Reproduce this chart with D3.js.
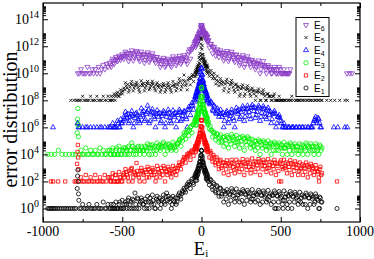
<!DOCTYPE html>
<html>
<head>
<meta charset="utf-8">
<title>error distribution</title>
<script src="https://d3js.org/d3.v7.min.js"></script>
<style>
  body { margin: 0; background: #fff; }
  svg { display: block; }
</style>
</head>
<body>
<script>
// histogram bins: counts every binStep from binStart (0 = empty bin)
var binStart = -780, binStep = 10;
// in-between bins, same step, shifted by 5
var halfStart = -575;
// finer bins around the central peak
var coreStart = -39, coreStep = 2;

var e1Bins = [700,1,1,2,1,1,1,2,1,1, 1,1,2,1,1,1,3,1,1,2, 1,2,1,1,3,1,2,1,4,1, 3,1,6,2,1,4,14,1,5,2,
  6,2,1,3,8,1,3,10,2,1, 8,3,1,4,10,2,14,8,3,1, 8,3,2,6,14,5,20,32,16,63, 90,30,150,60,300,120,800,3000,20000,2500,
  500,150,200,55,120,25,60,15,40,8, 32,12,3,12,25,2,10,30,9,3, 28,10,3,12,25,2,10,22,8,3, 25,9,3,10,22,2,9,20,7,3,
  22,8,2,9,20,1,8,18,6,2, 20,7,2,8,18,1,7,16,6,2, 16,6,2,7,14,1,6,12,5,2, 12,5,1,6,3];
var e2Bins = [500,1,2,1,1,3,1,1,2,1, 1,3,1,1,2,1,1,3,1,2, 2,1,4,1,3,1,5,2,1,4, 8,3,1,4,10,2,4,23,3,1,
  10,4,1,5,12,2,5,10,3,1, 14,5,2,6,14,1,5,12,4,2, 14,5,3,10,25,8,30,63,25,100, 125,40,200,80,400,250,1500,4000,35000,3000,
  600,200,250,60,125,30,63,16,40,8, 40,14,4,16,36,3,14,40,12,4, 40,15,5,16,45,3,14,40,12,4, 50,18,5,16,45,3,16,40,14,5,
  45,16,4,14,40,3,14,1,36,12, 40,14,4,12,36,3,12,30,10,3, 25,10,3,10,25,2,9,20,8,3, 16,6,2,12,4];
var e3Bins = [2500,1,2,1,1,3,1,1,2,1, 1,2,1,1,3,1,2,1,1,2, 2,1,3,1,2,1,4,1,2,3, 3,1,4,2,7,1,3,2,4,1,
  4,2,1,3,6,1,3,5,2,1, 7,3,2,4,8,1,3,6,3,2, 8,3,2,6,12,4,10,40,14,63, 25,100,40,160,400,150,1000,6000,90000,5000,
  1000,300,160,80,60,20,40,12,30,8, 28,10,4,12,25,3,10,30,12,4, 25,9,3,10,22,2,9,20,8,3, 13,5,2,6,12,1,5,10,4,2,
  10,4,1,5,8,2,4,7,3,1, 8,3,1,4,7,1,3,6,2,1, 6,3,1,3,7,1,3,6,2,1, 6,2,1,4,3];
var e4Bins = [2,1,0,1,0,1,1,0,1,0, 1,0,1,0,1,1,0,1,0,1, 1,0,2,1,1,3,1,4,2,6, 14,5,2,6,16,1,5,12,4,2,
  25,8,3,10,40,2,9,22,6,1, 18,6,2,7,16,1,6,20,5,2, 18,6,1,8,20,3,7,16,6,1, 32,8,63,20,160,400,1000,4000,25000,3000,
  600,250,100,60,80,20,40,12,25,6, 20,6,1,8,16,2,7,20,5,1, 28,10,4,14,36,3,12,40,14,4, 45,16,5,14,40,3,12,36,10,4,
  28,8,2,10,16,1,6,8,3,1, 2,1,0,1,0,1,1,0,1,0, 1,0,1,0,0,1,0,1,1,3, 6,2,4,1,0];
var e5Bins = [1,1,1,2,1,1,1,1,2,1, 1,1,2,1,1,1,2,1,1,2, 1,2,1,3,2,4,2,6,3,8, 20,8,4,10,25,5,12,22,9,4,
  28,12,5,12,25,6,12,26,10,5, 20,9,4,10,18,4,9,20,8,4, 25,10,5,14,40,6,15,74,12,6, 40,14,63,25,100,200,400,3000,40000,2500,
  600,300,250,60,160,40,100,16,63,12, 40,15,5,16,36,4,14,30,10,4, 16,6,2,7,14,2,6,12,5,2, 8,3,1,4,7,1,3,6,2,1,
  3,2,1,2,3,1,1,2,1,1, 1,1,0,1,1,2,1,0,1,1, 1,0,1,1,0,1,0,1,1,0, 1,0,1,0,1];
var e6Bins = [1,1,2,1,1,1,3,1,1,2, 1,2,1,3,1,2,4,2,5,3, 6,3,12,5,16,8,20,10,25,12, 40,18,8,20,50,9,22,45,16,8,
  40,15,6,16,36,7,14,30,12,6, 16,7,3,8,14,3,6,12,6,3, 18,8,4,9,20,5,10,22,10,5, 40,12,63,100,200,320,600,1200,3700,1500,
  700,400,250,80,150,30,90,20,60,16, 50,20,9,22,45,8,18,40,14,7, 25,10,4,10,22,3,9,18,7,3, 10,4,2,5,9,1,4,8,3,1,
  4,2,1,2,3,1,2,3,1,1, 2,1,1,1,2,0,0,0,0,0, 0,0,0,0,0,0,0,0,0,0, 0,0,0,0,0];

var e1Half = [1,1,2,1,1,1,3,1,1,2, 2,4,1,3,5,1,2,6,1,3, 4,2,5,1,3,6,2,4,1,5, 4,6,2,5,3,8,4,5,6,2,
  4,6,3,10,8,12,16,24,40,50, 60,100,80,200,250,500,1500,8000,6000,1200, 600,300,100,150,40,80,20,50,14,30,
  8,20,18,5,16,12,4,20,15,6, 6,16,14,4,18,12,4,15,12,5, 5,14,12,4,16,10,3,14,10,5, 4,12,10,3,14,9,3,12,8,4,
  4,12,9,3,12,8,3,11,8,4, 3,10,8,2,10,6,2,9,7,3, 8,4,7,3];
var e2Half = [1,2,1,3,1,1,2,1,3,2, 5,2,6,8,1,5,3,6,2,6, 6,3,7,2,8,5,3,7,5,2, 8,4,10,3,9,6,3,8,6,4,
  8,10,6,14,16,20,40,50,60,80, 100,160,150,250,300,700,2000,12000,10000,2000, 800,400,150,180,50,90,25,60,20,30,
  10,25,24,8,22,18,6,25,20,8, 10,28,22,8,25,20,7,28,22,8, 12,30,25,9,30,22,8,28,24,10, 10,28,22,8,25,20,6,25,20,8,
  10,25,20,7,22,18,6,20,16,6, 8,18,14,5,16,12,4,14,10,5, 9,5,8,3];
var e3Half = [1,2,1,1,3,1,2,1,2,1, 2,3,1,2,4,2,1,3,2,2, 3,2,4,2,3,5,1,3,4,2, 4,5,3,6,4,5,2,5,4,3,
  5,4,6,8,12,16,20,28,40,50, 60,120,160,250,300,500,2000,15000,20000,2500, 1200,500,250,120,60,45,25,35,16,20,
  8,18,20,6,18,15,6,20,18,8, 7,16,18,5,15,14,5,16,14,6, 4,10,9,3,9,8,3,8,7,4, 3,7,6,2,6,5,2,5,5,3,
  3,5,5,2,5,4,2,4,4,2, 2,5,4,2,5,4,2,4,4,2, 4,3,5,2];
var e4Half = [1,0,1,1,0,2,1,2,3,4, 8,10,3,9,7,2,10,8,3,6, 12,16,4,14,20,3,14,12,4,10, 10,12,3,10,12,2,10,12,3,8,
  10,12,3,12,14,4,12,14,4,20, 20,40,40,100,200,600,2000,12000,8000,1500, 500,200,120,50,60,16,30,10,15,10,
  10,12,3,12,10,4,12,12,3,14, 16,20,6,22,25,6,22,25,7,30, 28,30,8,25,30,6,22,25,6,20, 16,14,4,12,10,2,6,5,2,1,
  1,0,1,1,0,1,0,1,0,1, 0,1,0,1,0,1,0,1,2,4, 3,5,2,1];
var e5Half = [1,1,2,1,3,2,3,4,5,6, 12,15,6,16,14,8,16,14,6,12, 16,18,8,18,16,8,18,16,7,14, 12,14,6,14,12,6,14,12,6,12,
  14,16,8,20,25,10,30,25,16,30, 50,40,80,60,150,300,1500,15000,12000,1200, 800,400,150,100,80,60,40,30,25,20,
  25,22,8,25,20,7,20,18,6,14, 10,10,3,10,8,3,8,7,3,6, 5,5,2,5,4,1,4,3,1,3, 2,2,1,2,1,1,1,1,1,0,
  1,0,1,0,1,0,0,1,0,1, 0,1,0,0,1,0,1,0,0,1, 0,1,0,1];
var e6Half = [4,8,6,10,12,10,14,16,18,20, 28,30,14,32,30,15,35,30,12,25, 25,25,10,25,22,10,20,18,9,16, 10,10,5,10,9,4,9,8,4,10,
  12,12,6,14,12,7,14,16,8,25, 60,50,80,150,250,500,900,2500,2500,1000, 900,500,300,150,100,70,50,40,35,30,
  35,32,14,32,30,12,28,25,10,22, 16,15,6,15,13,5,12,11,5,9, 7,6,3,6,5,2,4,4,2,3, 3,2,1,2,2,1,1,2,1,1,
  1,1,1,1,0,0,0,0,0,0, 0,0,0,0,0,0,0,0,0,0, 0,0,0,0];

var e1Core = [250,120,400,180,500,250,600,300,900,400, 1200,600,1800,900,2500,1500,5000,3000,9000,20000,
  18000,8000,4000,2500,3000,1500,1800,900,1200,600, 900,400,700,300,500,200,400,150,300,120];
var e2Core = [300,150,450,200,600,300,800,400,1100,600, 1500,800,2200,1200,3500,2000,6000,4000,12000,35000,
  30000,10000,5000,3000,4000,2000,2500,1200,1600,800, 1200,600,900,400,700,300,500,200,400,150];
var e3Core = [350,150,500,250,700,350,1000,500,1400,700, 2000,1000,3000,1500,5000,2500,9000,5000,20000,90000,
  70000,15000,8000,4000,5000,2500,3000,1500,2000,1000, 1500,700,1100,500,800,400,600,250,450,200];
var e4Core = [200,80,300,120,400,180,600,250,800,350, 1100,500,1600,700,2500,1200,4000,2000,9000,25000,
  20000,7000,3500,2000,2500,1200,1500,700,1000,500, 700,300,500,200,400,150,300,100,200,80];
var e5Core = [120,60,150,80,200,100,250,120,320,150, 400,200,600,300,1000,500,2000,1200,8000,40000,
  30000,6000,2500,1200,1500,800,1000,500,700,400, 600,300,500,200,400,150,350,120,300,100];
var e6Core = [200,90,250,120,320,150,400,200,500,250, 600,300,800,400,1000,600,1500,900,2500,3700,
  3200,2000,1800,1200,1500,1000,1200,800,1000,600, 900,500,800,400,700,300,600,250,500,200];

// isolated points outside the grid: [E, count]
var e1Extra = [[-970,1],[-962,1],[-953,1],[-945,1],[-936,1],[-928,1],[-918,1],[-909,1],[-897,1],[-885,1],
  [-872,1],[-861,1],[-850,1],[-838,1],[-826,1],[-815,1],[-803,1],[-792,1],
  [-784,30],[-782,250],[-778,100],[-776,12],[-774,4],[462,1],[485,1],[515,1],[545,1],[745,1],[855,1]];
var e2Extra = [[-950,1],[-936,1],[-905,1],[-860,1],[-800,1],[-790,1],[-785,20],[-782,150],[-778,60],[-776,8],
  [503,1],[742,1],[855,1]];
var e3Extra = [[-970,1],[-948,1],[-925,1],[-903,2],[-880,1],[-858,1],[-834,1],[-812,1],[-795,1],
  [-784,40],[-782,400],[-779,150],[-777,20]];
var e4Extra = [[-937,1],[-782,2],[-776,1],[835,1],[860,1],[905,1],[920,1]];
var e5Extra = [[-825,1],[-805,1],[-790,1],[790,1],[815,1],[840,1],[872,1],[905,1],[920,1]];
var e6Extra = [[918,1],[935,1],[950,1]];

var names = ["E1", "E2", "E3", "E4", "E5", "E6"];
var shifts = [1, 1e2, 1e4, 1e6, 1e8, 1e10];   // each curve shifted by 10^2
var xTicks = [-1000, -500, 0, 500, 1000];
var xMinor = [-750, -250, 250, 750];
var yPows = [0, 2, 4, 6, 8, 10, 12, 14];

var w = 374, h = 259;
var pL = 43, pR = 360, pT = 3, pB = 222;   // plot frame

var svg = d3.select("body").append("svg")
    .attr("width", w)
    .attr("height", h);
svg.append("rect").attr("width", w).attr("height", h).attr("fill", "white");

var x = d3.scaleLinear().domain([-1000, 1000]).range([pL, pR]);
var y = d3.scaleLog().domain([0.1, Math.pow(10, 15.2)]).range([pB, pT]);

var tri = d3.symbol().type(d3.symbolTriangle).size(11)();
var styles = [
    {color: "black",   path: d3.symbol().type(d3.symbolCircle).size(13)(), rot: 0},
    {color: "#ff0000", path: d3.symbol().type(d3.symbolSquare).size(11)(), rot: 0},
    {color: "#00f000", path: d3.symbol().type(d3.symbolCircle).size(15)(), rot: 0},
    {color: "#0000ff", path: tri, rot: 0},
    {color: "black",   path: "M-1.5,-1.5L1.5,1.5M-1.5,1.5L1.5,-1.5", rot: 0},
    {color: "#8c3cc8", path: tri, rot: 180}
];
var bins = [e1Bins, e2Bins, e3Bins, e4Bins, e5Bins, e6Bins];
var halves = [e1Half, e2Half, e3Half, e4Half, e5Half, e6Half];
var cores = [e1Core, e2Core, e3Core, e4Core, e5Core, e6Core];
var extras = [e1Extra, e2Extra, e3Extra, e4Extra, e5Extra, e6Extra];

function points(k) {
    var pts = [];
    bins[k].forEach(function(c, i) { if (c > 0) pts.push([binStart + i * binStep, c]); });
    halves[k].forEach(function(c, i) { if (c > 0) pts.push([halfStart + i * binStep, c]); });
    cores[k].forEach(function(c, i) { if (c > 0) pts.push([coreStart + i * coreStep, c]); });
    extras[k].forEach(function(p) { pts.push(p); });
    return pts;
}

// E6 at the bottom of the stack, E1 drawn last
for (var k = 5; k >= 0; k--) {
    var st = styles[k];
    svg.append("g")
        .selectAll("path")
        .data(points(k))
        .enter()
        .append("path")
        .attr("d", st.path)
        .attr("transform", function(d) {
            return "translate(" + x(d[0]) + "," + y(d[1] * shifts[k]) + ")" + (st.rot ? " rotate(" + st.rot + ")" : "");
        })
        .attr("fill", "none")
        .attr("stroke", st.color)
        .attr("stroke-width", 0.8);
}

// frame
svg.append("rect")
    .attr("x", pL).attr("y", pT)
    .attr("width", pR - pL).attr("height", pB - pT)
    .attr("fill", "none").attr("stroke", "black").attr("stroke-width", 1.2);

// ticks (inward, on all four sides)
var yMinor = [];
yPows.forEach(function(p) { for (var m = 2; m <= 9; m++) yMinor.push(m * Math.pow(10, p)); });

function ticks(axis, tr, vals, size) {
    var g = svg.append("g").attr("transform", tr)
        .call(axis.tickValues(vals).tickSize(-size).tickFormat(""));
    g.select(".domain").remove();
    g.selectAll("line").attr("stroke", "black").attr("stroke-width", 1);
    return g;
}
ticks(d3.axisBottom(x), "translate(0," + pB + ")", xTicks, 5);
ticks(d3.axisBottom(x), "translate(0," + pB + ")", xMinor, 3);
ticks(d3.axisTop(x), "translate(0," + pT + ")", xTicks, 5);
ticks(d3.axisTop(x), "translate(0," + pT + ")", xMinor, 3);
var yMajor = yPows.map(function(p) { return Math.pow(10, p); });
ticks(d3.axisLeft(y), "translate(" + pL + ",0)", yMajor, 5);
ticks(d3.axisLeft(y), "translate(" + pL + ",0)", yMinor, 3);
ticks(d3.axisRight(y), "translate(" + pR + ",0)", yMajor, 5);
ticks(d3.axisRight(y), "translate(" + pR + ",0)", yMinor, 3);

var serif = "'Liberation Serif', 'Times New Roman', serif";

// x tick labels
svg.selectAll("text.xl")
    .data(xTicks)
    .enter()
    .append("text")
    .attr("class", "xl")
    .text(function(d) { return d; })
    .attr("x", function(d) { return x(d); })
    .attr("y", 235.5)
    .attr("text-anchor", "middle")
    .attr("font-family", serif)
    .attr("font-size", "14px");

// y tick labels 10^n
var yl = svg.selectAll("text.yl")
    .data(yPows)
    .enter()
    .append("text")
    .attr("class", "yl")
    .attr("x", 39)
    .attr("y", function(d) { return y(Math.pow(10, d)) + 5; })
    .attr("text-anchor", "end")
    .attr("font-family", serif)
    .attr("font-size", "14px");
yl.append("tspan").text("10");
yl.append("tspan").text(function(d) { return d; })
    .attr("font-size", "10px").attr("dy", -6);

// axis titles
var xt = svg.append("text")
    .attr("x", 201).attr("y", 254.5)
    .attr("text-anchor", "middle")
    .attr("font-family", serif)
    .attr("font-size", "18.5px");
xt.append("tspan").text("E");
xt.append("tspan").text("i").attr("font-size", "11px").attr("dy", 2);

svg.append("text")
    .text("error distribution")
    .attr("transform", "translate(16.5,119.5) rotate(-90)")
    .attr("text-anchor", "middle")
    .attr("font-family", serif)
    .attr("font-size", "20px");

// legend
var lg = svg.append("g");
lg.append("rect")
    .attr("x", 296).attr("y", 17.5)
    .attr("width", 33).attr("height", 79)
    .attr("fill", "white").attr("stroke", "black").attr("stroke-width", 1);
var order = [5, 4, 3, 2, 1, 0];
order.forEach(function(k, i) {
    var ly = 25 + i * 12.6;
    var st = styles[k];
    lg.append("path")
        .attr("d", st.path)
        .attr("transform", "translate(306," + ly + ")" + (st.rot ? " rotate(" + st.rot + ")" : ""))
        .attr("fill", "none").attr("stroke", st.color).attr("stroke-width", 0.8);
    var t = lg.append("text")
        .attr("x", 314).attr("y", ly + 3.5)
        .attr("font-family", "'Liberation Sans', Arial, sans-serif")
        .attr("font-size", "10px");
    t.append("tspan").text(names[k].charAt(0));
    t.append("tspan").text(names[k].charAt(1)).attr("font-size", "7px").attr("dy", 2);
});
</script>
</body>
</html>
